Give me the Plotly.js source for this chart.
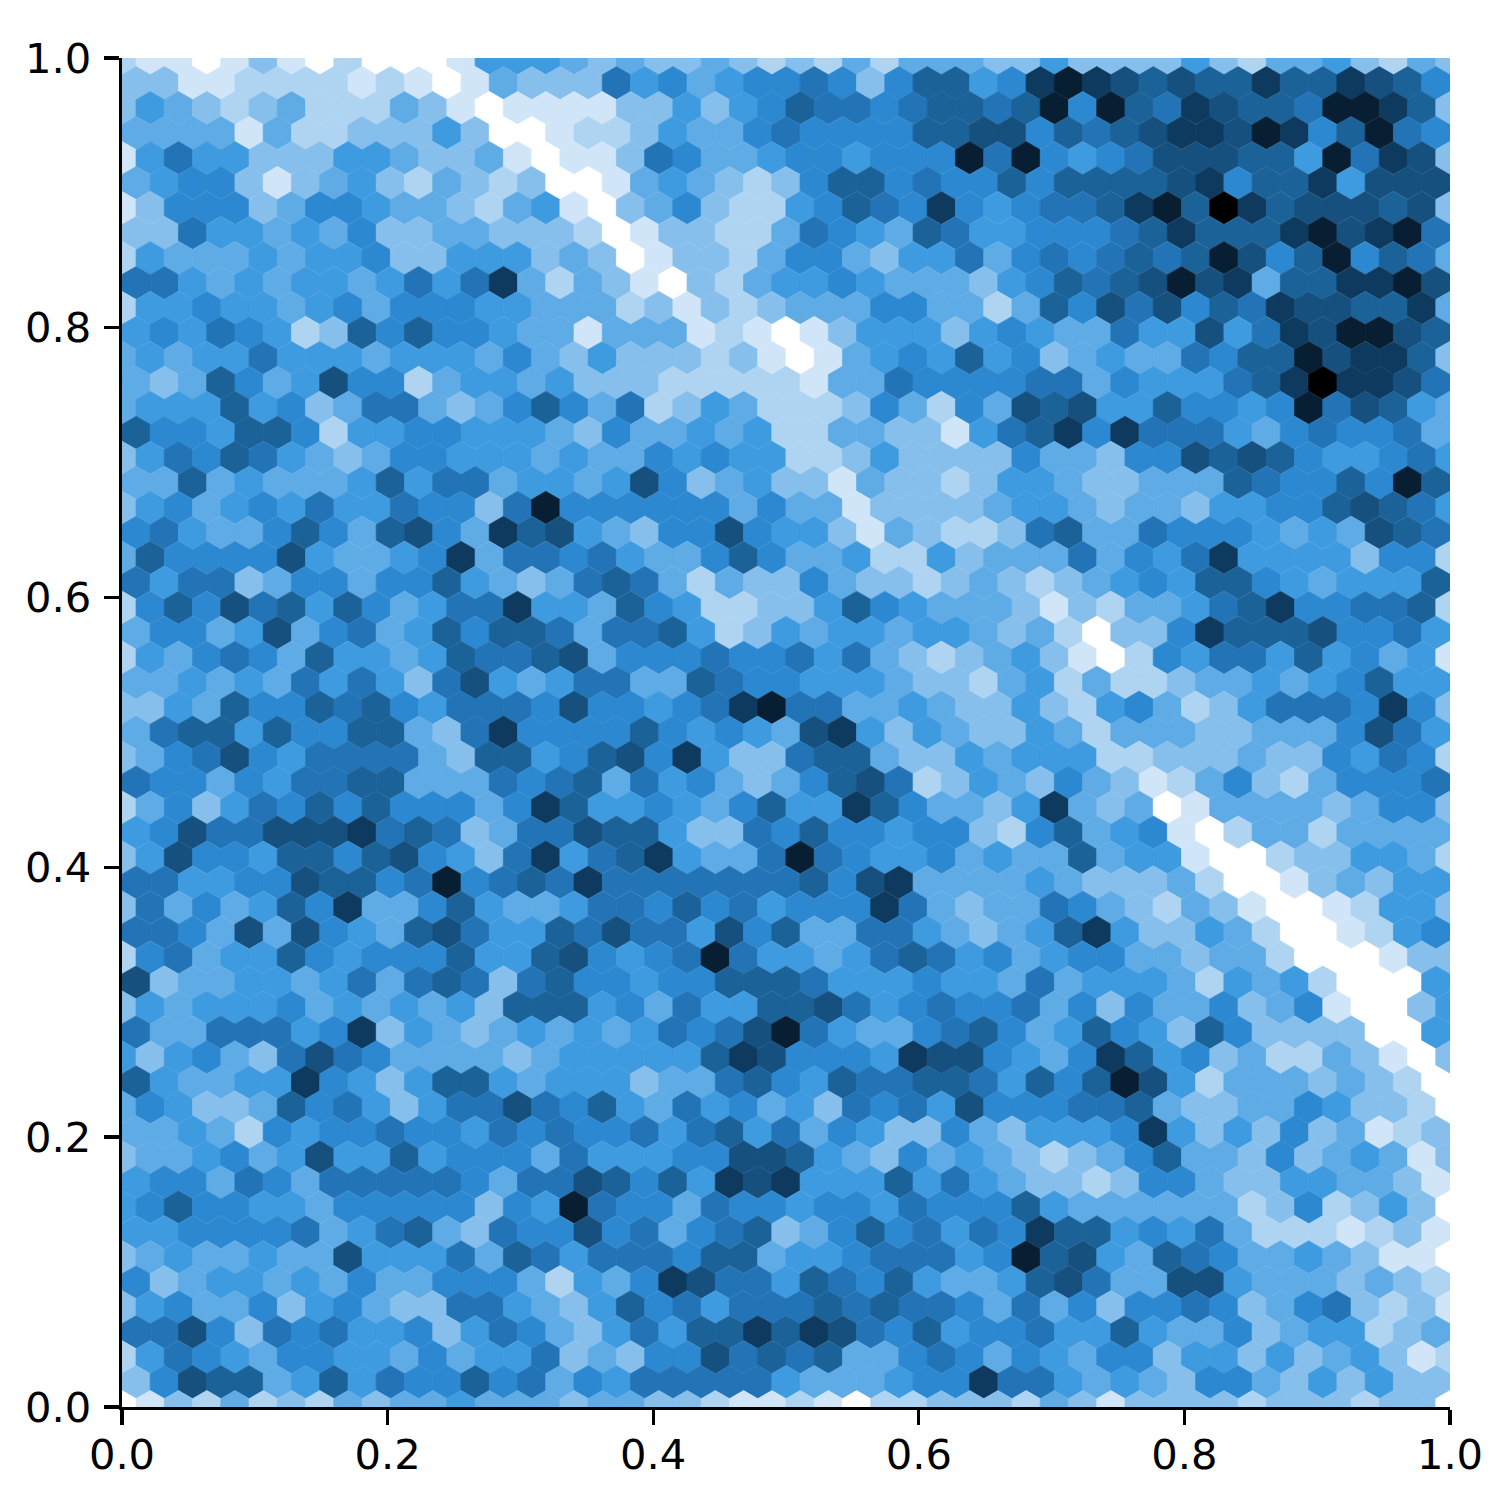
<!DOCTYPE html>
<html>
<head>
<meta charset="utf-8">
<script src="https://cdn.plot.ly/plotly-3.0.1.min.js"></script>
<style>html,body{margin:0;padding:0;background:#fff}</style>
</head>
<body>
<div id="chart" style="width:1501px;height:1501px"></div>
<script>
// Per-row bin levels (base 13 digit per hexagon), top row first.
const leftBins = [
"2110131020001555","3311222212101433","3543234222431011","4444142233353001","1575533355433410",
"4566313453243230","1366634665443245","3375545463344333","2544454556335553","7754545545757a42",
"2556554564666554","5657652386866544","4545575554555464","4348645966245545","4555856347743468",
"8665886255665554","3576875434665554","4484544458577455","356456575576637b","6754468648964a89",
"486666954456a477","7577346646685434","26869785864577a5","4664594674586887","2546764855458778",
"4454547575379545","3354866878657776","4788586688437a66","3467965777743885","7664657788444767",
"246357686866646a","56977999a7873477","359665886896537a","77556698867b6787","37464586a4468544",
"7764949654897558","2674558656668558","9344554574787378","3545556454545388","74477756a3543454",
"5356437976444434","854455a653588545","4653348675357797","4454265667665767","3445645955856664",
"5664764777776477","5686655466666365","5566667457843766","3454454495557487","6345545464466642",
"3564463564337754","7796376755635764","2576546655464557","3698845857668674","0132423243445444"];
const midBins = [
"4343343232424443","3756456676368856","1133535687767887","2235446766668899","11376445665666b7",
"0145432368867668","1034632256876a65","2013322476548755","4301332466435574","4310324556544435",
"4423132344466442","1444121013555356","3533323101456585","3332222214476666","6472354222364264",
"3644545224433157","5446565522353333","4596345331433235","6666664644133334","5436696553143223",
"6754468644522534","7874243364332343","5486522335865444","4778523545545543","9466676675743234",
"7744876655543324","966567ab77445433","668656549a535433","6896a53378843354","8475643468972354",
"8556546855a86443","9885337686656632","578a5447b7655645","a7777777869a4444","57768675666a7434",
"7977596844775434","96567b7554578756","6656688875556554","8564755889756766","5457679b75446786",
"555558a96665a996","5534478658778875","6854756453767596","6675785746533643","7555669985436454",
"98685a9a55585754","b766476656657666","9674678346867576","5777688455677756","546a977587685445",
"3586757778787764","357588a8a9768566","3436697878446764","65777775444566a7","3443321121022333"];
const rightBins = [
"3533335324453243","aba98988a88a986","8b6b87a9887bba83","68789aa9ba68b76","b6567999885b7a93",
"688889a688a5999","6778ab8ca8999893","66678a888ab9ab7","6767878b968b6874","68789b9a488aab9",
"486979687a9988a4","544755957a9bb98","6345447688b9aa83","774655578acaa97","9895586656b79854",
"8a6a77754676674","6443669898655675","5433444876686b8","5543443556689875","784476665454987",
"4474657a55553662","234565886545558","313244578a667782","420336a88896675","5310265775856451",
"524223445456855","5325642357776a63","542444334446975","5552233343365762","364312463246667",
"5a43401444434663","684561024424444","4484551002335542","543334200134355","4764324310012553",
"58a533542001256","4566443442000133","745554254520005","7463644634610035","458653863333005",
"546a856342243103","868b95244434320","6677843344653320","5556a5353634123","3234684436345413",
"332366433554431","8544444423623530","a88565742221231","b895487644543110","897449954443432",
"7463667634673231","755854463455234","6546635535345312","754543664353533","2431333323332330"];
const rampColors = ["#ffffff","#d0e5f8","#aed4f2","#86bfeb","#5fabe6","#3f9be0","#2c88d0","#2274b6","#1b6299","#15507f","#0e3a5f","#081f33","#000000"];
const tickValues = [0, 0.2, 0.4, 0.6, 0.8, 1.0];
const tickLabels = ["0.0", "0.2", "0.4", "0.6", "0.8", "1.0"];
const gridCols = 47, gridRows = 54;

const xs = [], ys = [], levels = [];
leftBins.forEach((_, j) => {
  const row = leftBins[j] + midBins[j] + rightBins[j];
  for (let i = 0; i < row.length; i++) {
    xs.push((i + (j % 2 ? 0.5 : 0)) / gridCols);
    ys.push(1 - j / gridRows);
    levels.push(parseInt(row[i], 13));
  }
});
const scale = rampColors.map((c, i) => [i / (rampColors.length - 1), c]);

const axisBase = {
  range: [0, 1], showgrid: false, zeroline: false, showline: true,
  linecolor: "#000", linewidth: 3.4, ticks: "outside", ticklen: 15, tickwidth: 3.4,
  tickcolor: "#000", tickvals: tickValues, ticktext: tickLabels,
  tickfont: {family: "DejaVu Sans", size: 41.67, color: "#000"}, fixedrange: true
};
Plotly.newPlot("chart", [{
  type: "scatter", mode: "markers", x: xs, y: ys, cliponaxis: true, hoverinfo: "skip",
  marker: {symbol: "hexagon", size: 32.8, color: levels, cmin: 0, cmax: 12, colorscale: scale,
           showscale: false,
           line: {width: 0.7, color: levels, cmin: 0, cmax: 12, colorscale: scale}}
}], {
  width: 1501, height: 1501, showlegend: false,
  paper_bgcolor: "#fff", plot_bgcolor: "#fff",
  margin: {l: 122, r: 51, t: 58, b: 94, pad: 0},
  xaxis: Object.assign({}, axisBase, {ticklabelstandoff: -6}),
  yaxis: Object.assign({}, axisBase, {ticklabelstandoff: 4})
}, {displayModeBar: false, staticPlot: true});
</script>
</body>
</html>
